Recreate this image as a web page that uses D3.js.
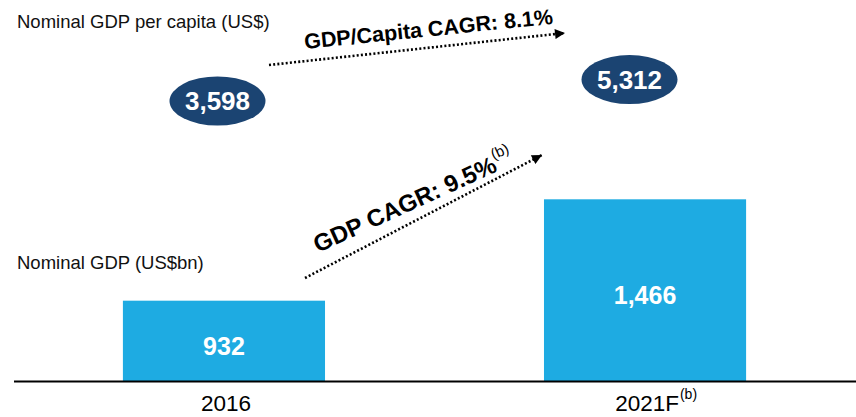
<!DOCTYPE html>
<html>
<head>
<meta charset="utf-8">
<script src="https://cdn.jsdelivr.net/npm/d3@7"></script>
<style>
  body { margin: 0; background: #fff; }
  svg { display: block; font-family: "Liberation Sans", Arial, sans-serif; }
</style>
</head>
<body>
<div id="rootContainer"></div>
<script>
// chart data
const years = ["2016", "2021F"];
const yearNotes = ["", "(b)"];
const gdpValues = [932, 1466];          // Nominal GDP (US$bn)
const perCapitaValues = [3598, 5312];   // Nominal GDP per capita (US$)
const gdpLabels = ["932", "1,466"];
const perCapitaLabels = ["3,598", "5,312"];
const cagrTexts = ["GDP/Capita CAGR: 8.1%", "GDP CAGR: 9.5%"];
const cagrNotes = ["", "(b)"];

const width = 856, height = 417;
const baseY = 381;

const svg = d3.select("#rootContainer").append("svg")
    .attr("width", width)
    .attr("height", height);

// scales
var x = d3.scaleBand()
    .domain(years)
    .range([13, 856])
    .paddingInner(0.52)
    .paddingOuter(0.261);

// axis is not zero-based in the original slide
var y = d3.scaleLinear()
    .domain([509, 1466])
    .range([baseY, 199.3]);

var pcX = d3.scalePoint()
    .domain(years)
    .range([217.5, 629.5]);

var pcY = d3.scaleLinear()
    .domain([0, 6000])
    .range([146.1, 70.9]);

// bars
svg.append("g")
  .selectAll("rect")
  .data(gdpValues)
  .enter().append("rect")
    .attr("x", (d, i) => x(years[i]))
    .attr("y", d => y(d))
    .attr("width", x.bandwidth())
    .attr("height", d => baseY - y(d))
    .attr("fill", "#1eabe2");

// bar value labels
svg.append("g")
  .selectAll("text")
  .data(gdpValues)
  .enter().append("text")
    .attr("x", (d, i) => x(years[i]) + x.bandwidth() / 2)
    .attr("y", d => (y(d) + baseY) / 2 + 5)
    .attr("dy", "0.35em")
    .attr("text-anchor", "middle")
    .attr("fill", "#fff")
    .style("font-weight", "bold")
    .style("font-size", "25px")
    .text((d, i) => gdpLabels[i]);

// baseline
svg.append("line")
    .attr("x1", 14)
    .attr("x2", width)
    .attr("y1", baseY + 0.5)
    .attr("y2", baseY + 0.5)
    .attr("stroke", "#000")
    .attr("stroke-width", 2);

// category labels
years.forEach((yr, i) => {
  var cx = x(yr) + x.bandwidth() / 2;
  var t = svg.append("text")
      .attr("x", cx + 2)
      .attr("y", 411)
      .attr("text-anchor", "middle")
      .attr("fill", "#000")
      .style("font-size", "22.5px")
      .text(yr);
  if (yearNotes[i]) {
    var w = t.node().getComputedTextLength();
    svg.append("text")
        .attr("x", cx + 2 + w / 2 + 1)
        .attr("y", 399)
        .attr("fill", "#000")
        .style("font-size", "14px")
        .text(yearNotes[i]);
  }
});

// per capita bubbles
var bubbles = svg.append("g")
  .selectAll("g")
  .data(perCapitaValues)
  .enter().append("g")
    .attr("transform", (d, i) => "translate(" + pcX(years[i]) + "," + pcY(d) + ")");

bubbles.append("ellipse")
    .attr("rx", 48)
    .attr("ry", 24.5)
    .attr("fill", "#1b4472");

bubbles.append("text")
    .attr("dy", "0.36em")
    .attr("text-anchor", "middle")
    .attr("fill", "#fff")
    .style("font-weight", "bold")
    .style("font-size", "26px")
    .text((d, i) => perCapitaLabels[i]);

// section titles
svg.append("text")
    .attr("x", 17)
    .attr("y", 28.3)
    .style("font-size", "18.5px")
    .attr("fill", "#111")
    .text("Nominal GDP per capita (US$)");

svg.append("text")
    .attr("x", 17)
    .attr("y", 269.3)
    .style("font-size", "18.5px")
    .attr("fill", "#111")
    .text("Nominal GDP (US$bn)");

// CAGR arrows (annotation positions)
var arrows = [
  { x1: 269, y1: 65, x2: 565, y2: 33, tx: 305, ty: 49, rot: -5.8, size: 21.5 },
  { x1: 305, y1: 278, x2: 542, y2: 155, tx: 318, ty: 253, rot: -24.5, size: 24 }
];

var defs = svg.append("defs");
defs.append("marker")
    .attr("id", "arrowHead")
    .attr("viewBox", "0 0 10 10")
    .attr("refX", 10)
    .attr("refY", 5)
    .attr("markerUnits", "userSpaceOnUse")
    .attr("markerWidth", 11)
    .attr("markerHeight", 10)
    .attr("orient", "auto")
  .append("path")
    .attr("d", "M0,0 L10,5 L0,10 Z")
    .attr("fill", "#000");

arrows.forEach((a, i) => {
  svg.append("line")
      .attr("x1", a.x1)
      .attr("y1", a.y1)
      .attr("x2", a.x2)
      .attr("y2", a.y2)
      .attr("stroke", "#000")
      .attr("stroke-width", 2.6)
      .attr("stroke-dasharray", "2,2.2")
      .attr("marker-end", "url(#arrowHead)");

  var txt = svg.append("text")
      .attr("transform", "translate(" + a.tx + "," + a.ty + ") rotate(" + a.rot + ")")
      .attr("fill", "#000")
      .style("font-weight", "bold")
      .style("font-size", a.size + "px")
      .text(cagrTexts[i]);

  if (cagrNotes[i]) {
    txt.append("tspan")
        .attr("dy", -12)
        .style("font-size", "15px")
        .style("font-weight", "normal")
        .text(cagrNotes[i]);
  }
});
</script>
</body>
</html>
